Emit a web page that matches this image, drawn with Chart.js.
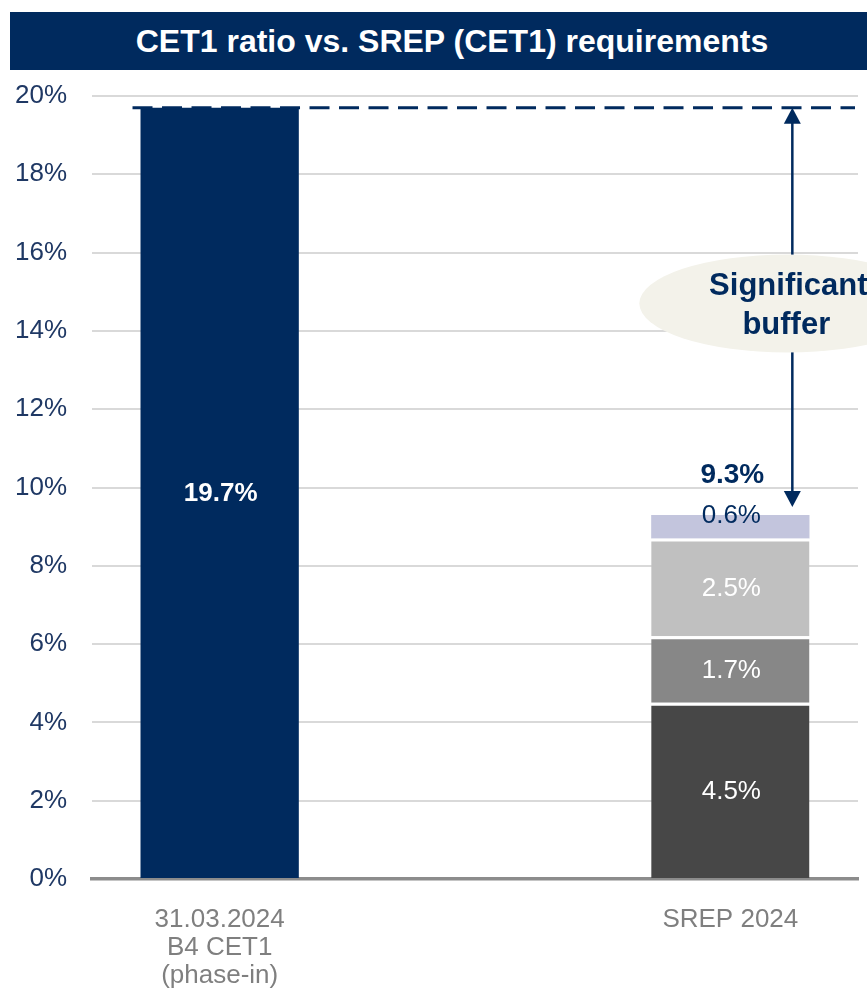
<!DOCTYPE html>
<html>
<head>
<meta charset="utf-8">
<title>CET1 ratio vs. SREP (CET1) requirements</title>
<script src="https://cdn.jsdelivr.net/npm/chart.js@4.4.1/dist/chart.umd.min.js"></script>
<style>
  html, body { margin: 0; padding: 0; background: #fff; overflow: hidden; }
  body { width: 867px; height: 989px; position: relative; font-family: "Liberation Sans", Arial, sans-serif; }
  #title {
    position: absolute; top: 12px; left: 10px; width: 857px; height: 58px;
    box-sizing: border-box; padding-left: 27px;
    background: #002a5e; color: #fff; font-weight: bold; font-size: 32px;
    line-height: 58px; text-align: center; white-space: nowrap; z-index: 2;
  }
  #chart { position: absolute; top: 0; left: 0; }
</style>
</head>
<body>
<div id="title">CET1 ratio vs. SREP (CET1) requirements</div>
<canvas id="chart" width="867" height="989"></canvas>
<script>
// categories on the x axis (multi-line labels)
const categories = [["31.03.2024", "B4 CET1", "(phase-in)"], "SREP 2024"];

// CET1 ratio and SREP building blocks, in %
const cet1Ratio = [19.7, null];
const pillar1 = [null, 4.5];
const p2r = [null, 1.7];
const conservationBuffer = [null, 2.5];
const otherBuffers = [null, 0.6];

const yTicks = [0, 2, 4, 6, 8, 10, 12, 14, 16, 18, 20];
const calloutText = ["Significant", "buffer"];

const NAVY = "#002a5e";
const FONT = '"Liberation Sans", Arial, sans-serif';

// leave an empty slot between the two bars
function spread(arr) {
  return [arr[0], null, arr[1]];
}
const labels = [categories[0], "", categories[1]];

const sepBorder = { top: 3, right: 0, bottom: 0, left: 0 };

const datasets = [
  { label: "CET1 ratio", data: spread(cet1Ratio), backgroundColor: NAVY,
    labelColor: "#fff", labelBold: true },
  { label: "Pillar 1", data: spread(pillar1), backgroundColor: "#474747",
    borderColor: "#fff", borderWidth: sepBorder, labelColor: "#fff" },
  { label: "P2R", data: spread(p2r), backgroundColor: "#878787",
    borderColor: "#fff", borderWidth: sepBorder, labelColor: "#fff" },
  { label: "Capital conservation buffer", data: spread(conservationBuffer), backgroundColor: "#c0c0c0",
    borderColor: "#fff", borderWidth: sepBorder, labelColor: "#fff" },
  { label: "Other buffers", data: spread(otherBuffers), backgroundColor: "#c3c5dd",
    labelColor: NAVY, labelAtTop: true },
];

function fmt(v) {
  return v.toFixed(1) + "%";
}

function srepTotal() {
  return [pillar1, p2r, conservationBuffer, otherBuffers]
    .reduce((s, arr) => s + arr[1], 0);
}

// value labels inside the bars and the total on top of the SREP stack
const barLabels = {
  id: "barLabels",
  afterDatasetsDraw(chart) {
    const ctx = chart.ctx;
    ctx.save();
    ctx.textAlign = "center";
    ctx.textBaseline = "middle";
    chart.data.datasets.forEach((ds, di) => {
      const meta = chart.getDatasetMeta(di);
      ds.data.forEach((v, i) => {
        if (v == null) return;
        const bar = meta.data[i];
        const y = ds.labelAtTop ? bar.y : (bar.y + bar.base) / 2;
        ctx.font = (ds.labelBold ? "bold " : "") + "26px " + FONT;
        ctx.fillStyle = ds.labelColor;
        ctx.fillText(fmt(v), bar.x + 1, y + 1);
      });
    });

    // total of the SREP stack
    const total = srepTotal();
    const yScale = chart.scales.y;
    const topBar = chart.getDatasetMeta(4).data[2];
    ctx.font = "bold 28px " + FONT;
    ctx.fillStyle = NAVY;
    ctx.fillText(fmt(total), topBar.x + 2, yScale.getPixelForValue(total) - 40);
    ctx.restore();
  }
};

// dashed level of the CET1 ratio, buffer arrow and callout
const bufferCallout = {
  id: "bufferCallout",
  afterDatasetsDraw(chart) {
    const ctx = chart.ctx;
    const area = chart.chartArea;
    const yScale = chart.scales.y;
    const cetBar = chart.getDatasetMeta(0).data[0];
    const srepBar = chart.getDatasetMeta(4).data[2];

    const yTop = yScale.getPixelForValue(cet1Ratio[0]);
    const yBottom = yScale.getPixelForValue(srepTotal()) - 8;

    ctx.save();
    ctx.strokeStyle = NAVY;
    ctx.lineWidth = 3;
    ctx.setLineDash([20, 9.5]);
    ctx.beginPath();
    ctx.moveTo(cetBar.x - cetBar.width / 2 - 8, yTop);
    ctx.lineTo(area.right - 3, yTop);
    ctx.stroke();
    ctx.setLineDash([]);

    // double-headed arrow
    const ax = srepBar.x + 62;
    const head = 16, half = 8.5;
    ctx.lineWidth = 2.5;
    ctx.beginPath();
    ctx.moveTo(ax, yTop + head - 2);
    ctx.lineTo(ax, yBottom - head + 2);
    ctx.stroke();
    ctx.fillStyle = NAVY;
    ctx.beginPath();
    ctx.moveTo(ax, yTop);
    ctx.lineTo(ax - half, yTop + head);
    ctx.lineTo(ax + half, yTop + head);
    ctx.closePath();
    ctx.fill();
    ctx.beginPath();
    ctx.moveTo(ax, yBottom);
    ctx.lineTo(ax - half, yBottom - head);
    ctx.lineTo(ax + half, yBottom - head);
    ctx.closePath();
    ctx.fill();

    // callout ellipse
    const cx = srepBar.x + 57;
    const cy = yScale.getPixelForValue(14.7);
    ctx.fillStyle = "#f3f2ea";
    ctx.beginPath();
    ctx.ellipse(cx, cy, 148, 49, 0, 0, Math.PI * 2);
    ctx.fill();

    ctx.fillStyle = NAVY;
    ctx.font = "bold 31px " + FONT;
    ctx.textAlign = "center";
    ctx.textBaseline = "alphabetic";
    ctx.fillText(calloutText[0], cx + 1, cy - 8);
    ctx.fillText(calloutText[1], cx - 1, cy + 31);
    ctx.restore();
  }
};

new Chart(document.getElementById("chart"), {
  type: "bar",
  data: { labels: labels, datasets: datasets },
  options: {
    responsive: false,
    animation: false,
    events: [],
    categoryPercentage: 1,
    barPercentage: 0.62,
    layout: { padding: { top: 96, right: 9, left: 0, bottom: 0 } },
    plugins: {
      legend: { display: false },
      tooltip: { enabled: false },
      title: { display: false },
    },
    scales: {
      x: {
        stacked: true,
        grid: { display: false },
        border: { color: "#8c8c8c", width: 3.5 },
        ticks: {
          color: "#7f7f7f",
          font: { family: FONT, size: 26, lineHeight: 1.08 },
          padding: 19,
          maxRotation: 0,
          autoSkip: false,
        },
        afterFit(scale) { scale.height = 110; },
      },
      y: {
        stacked: true,
        min: yTicks[0],
        max: yTicks[yTicks.length - 1],
        afterBuildTicks(scale) {
          scale.ticks = yTicks.map((v) => ({ value: v }));
        },
        grid: {
          drawTicks: false,
          lineWidth: 2,
          color: (c) => (c.tick && c.tick.value === 0 ? "rgba(0,0,0,0)" : "#d9d9d9"),
        },
        border: { display: false },
        ticks: {
          color: "#1f3864",
          font: { family: FONT, size: 26 },
          padding: 25,
          callback: (v) => v + "%",
        },
        afterFit(scale) { scale.width = 92; },
      },
    },
  },
  plugins: [barLabels, bufferCallout],
});
</script>
</body>
</html>
